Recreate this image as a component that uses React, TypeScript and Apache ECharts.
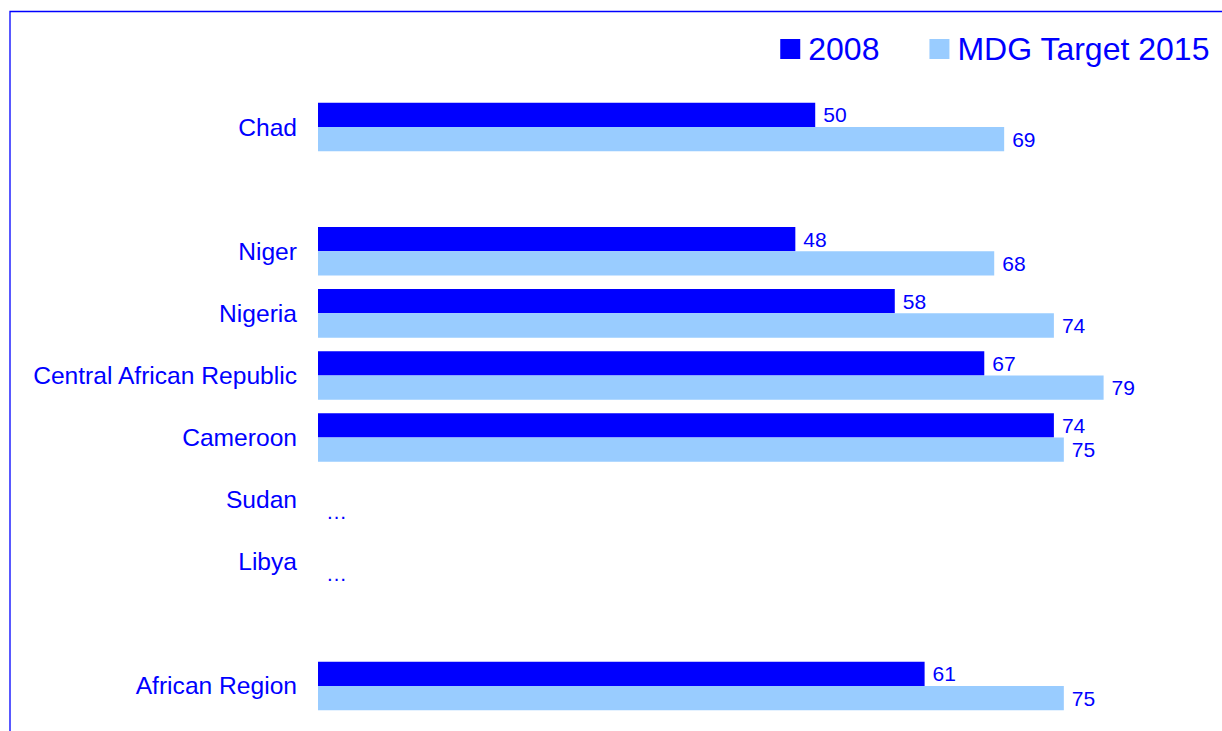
import React, { useEffect, useRef } from "react";
import * as echarts from "echarts";

const categories = [
  "Chad",
  "",
  "Niger",
  "Nigeria",
  "Central African Republic",
  "Cameroon",
  "Sudan",
  "Libya",
  "",
  "African Region",
];
const values2008: (number | null)[] = [50, null, 48, 58, 67, 74, null, null, null, 61];
const valuesMdg2015: (number | null)[] = [69, null, 68, 74, 79, 75, null, null, null, 75];
const noDataCategories = ["Sudan", "Libya"];

const FONT = "'Liberation Sans', Arial, Helvetica, sans-serif";
const BLUE = "#0000FF";
const LIGHT = "#99CCFF";

export default function App() {
  const ref = useRef<HTMLDivElement>(null);
  useEffect(() => {
    if (!ref.current) return;
    const chart = echarts.init(ref.current, null, { renderer: "svg" });

    const mdgData = valuesMdg2015.map((v, i) =>
      noDataCategories.includes(categories[i]) ? { value: 0, noData: true } : v
    );

    const valueLabel = {
      show: true,
      position: "right" as const,
      distance: 8,
      color: BLUE,
      fontSize: 21,
      fontFamily: FONT,
    };

    chart.setOption({
      animation: false,
      textStyle: { fontFamily: FONT },
      graphic: [
        {
          type: "rect",
          shape: { x: 10, y: 11.5, width: 1240, height: 740 },
          style: { fill: "none", stroke: BLUE, lineWidth: 1.3 },
          silent: true,
        },
      ],
      legend: {
        top: 33,
        right: 12,
        padding: 0,
        itemWidth: 20,
        itemHeight: 20,
        itemGap: 50,
        icon: "rect",
        textStyle: { color: BLUE, fontSize: 32, fontFamily: FONT, padding: [0, 0, 0, 3] },
        data: ["2008", "MDG Target 2015"],
      },
      grid: { left: 318, right: 9, top: 96, bottom: 14, containLabel: false },
      xAxis: {
        type: "value",
        min: 0,
        max: 90,
        show: false,
        splitLine: { show: false },
      },
      yAxis: {
        type: "category",
        inverse: true,
        data: categories,
        axisLine: { show: false },
        axisTick: { show: false },
        axisLabel: { color: BLUE, fontSize: 24.6, fontFamily: FONT, margin: 21 },
        splitLine: { show: false },
      },
      series: [
        {
          name: "2008",
          type: "bar",
          data: values2008,
          barWidth: 24.3,
          barGap: "0%",
          itemStyle: { color: BLUE },
          label: valueLabel,
        },
        {
          name: "MDG Target 2015",
          type: "bar",
          data: mdgData,
          barWidth: 24.3,
          barGap: "0%",
          itemStyle: { color: LIGHT },
          label: {
            ...valueLabel,
            formatter: (p: any) => (p.data && p.data.noData ? "…" : String(p.value)),
          },
        },
      ],
    });
    return () => chart.dispose();
  }, []);
  return (
    <div
      ref={ref}
      style={{ position: "absolute", left: 0, top: 0, width: 1222, height: 731, background: "#fff" }}
    />
  );
}
